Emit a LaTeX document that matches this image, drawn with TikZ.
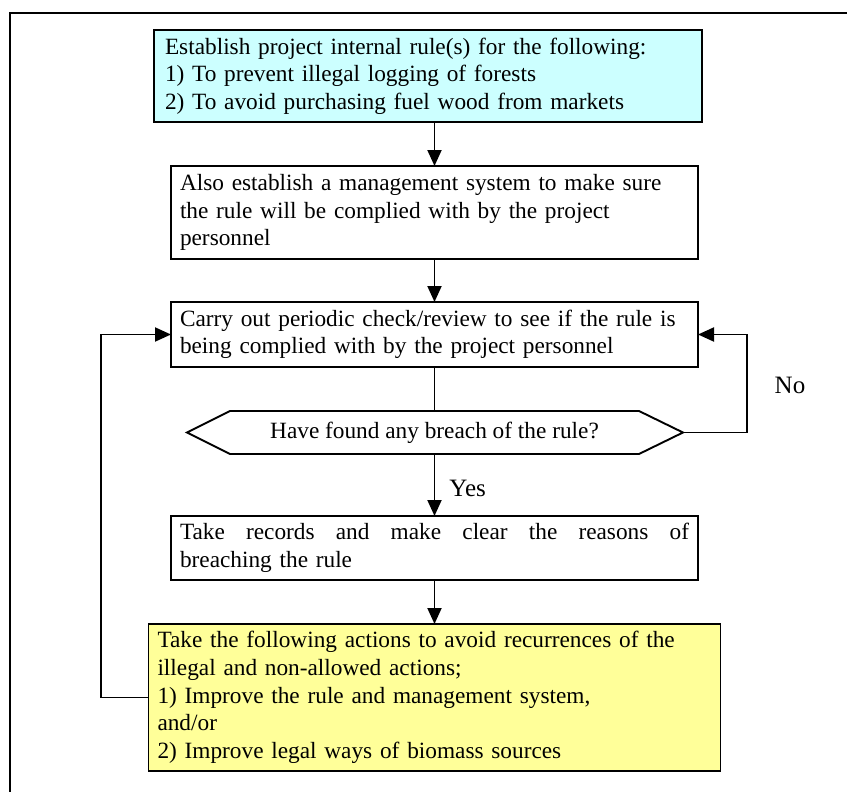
\documentclass[tikz,border=0pt]{standalone}
\usepackage{fontspec}
\setmainfont{Liberation Serif}
\usetikzlibrary{arrows.meta}
\definecolor{paleCyan}{HTML}{CCFFFF}
\definecolor{paleYellow}{HTML}{FFFF99}
\tikzset{
  x=1pt, y=-1pt,
  txt/.style={font=\fontsize{23.3}{27.6}\selectfont},
  box/.style={txt, draw, line width=1.9pt, rectangle, inner ysep=0pt, inner xsep=9pt,
    outer sep=0pt, align=left},
  conn/.style={line width=1.9pt, -{Triangle[length=16pt,width=14pt]}},
  plain/.style={line width=1.9pt},
  lbl/.style={font=\fontsize{25}{28}\selectfont, inner sep=0pt}
}
\begin{document}
\begin{tikzpicture}
\useasboundingbox (0,0) rectangle (847,792);
\clip (0,0) rectangle (847,792);
% outer frame (only the top and left edges fall inside the page)
\draw[line width=2pt] (9.5,820) -- (9.5,13.5) -- (870,13.5);

\node[box, fill=paleCyan, inner xsep=11pt, text width=526pt, minimum height=92pt] (b1) at (428,76)
  {Establish project internal rule(s) for the following:\\
   1) To prevent illegal logging of forests\\
   2) To avoid purchasing fuel wood from markets};

\node[box, text width=509pt, minimum height=93pt] (b2) at (434.5,212.5)
  {Also establish a management system to make sure\\
   the rule will be complied with by the project\\
   personnel};

\node[box, text width=509pt, minimum height=65pt] (b3) at (434.5,334.5)
  {Carry out periodic check/review to see if the rule is\\
   being complied with by the project personnel};

% decision: text node spanning the flat part of the hexagon
\node[txt, inner sep=0pt, outer sep=0pt, minimum width=409pt, minimum height=43pt] (q) at (434.5,432.5)
  {Have found any breach of the rule?};
\coordinate (qw) at (187,432.5);
\coordinate (qe) at (683,432.5);
\draw[plain, line join=miter] (q.north west) -- (q.north east) -- (qe) -- (q.south east)
  -- (q.south west) -- (qw) -- cycle;

\node[box, text width=509pt, minimum height=64pt] (b4) at (434.5,548)
  {\makebox[509pt][l]{Take\hfill records\hfill and\hfill make\hfill clear\hfill the\hfill reasons\hfill of}\\
   breaching the rule};

\node[box, fill=paleYellow, text width=554pt, minimum height=147pt] (b5) at (434.5,697.5)
  {Take the following actions to avoid recurrences of the\\
   illegal and non-allowed actions;\\
   1) Improve the rule and management system,\\
   and/or\\
   2) Improve legal ways of biomass sources};

% connectors
\draw[conn] (b2.north |- b1.south) -- (b2.north);
\draw[conn] (b2.south) -- (b3.north);
\draw[plain] (b3.south) -- (b3.south |- q.north);
\draw[conn] (b4.north |- q.south) -- node[lbl, right=14pt, pos=0.55] (yes) {Yes} (b4.north);
\draw[conn] (b4.south) -- (b5.north);
\draw[conn] (b5.west) -- (101,697.5) -- (101,334.5) -- (b3.west);
\draw[conn] (qe) -- (747,432.5) -- (747,334.5) -- (b3.east);
\node[lbl] (no) at (790,385) {No};
\end{tikzpicture}
\end{document}
